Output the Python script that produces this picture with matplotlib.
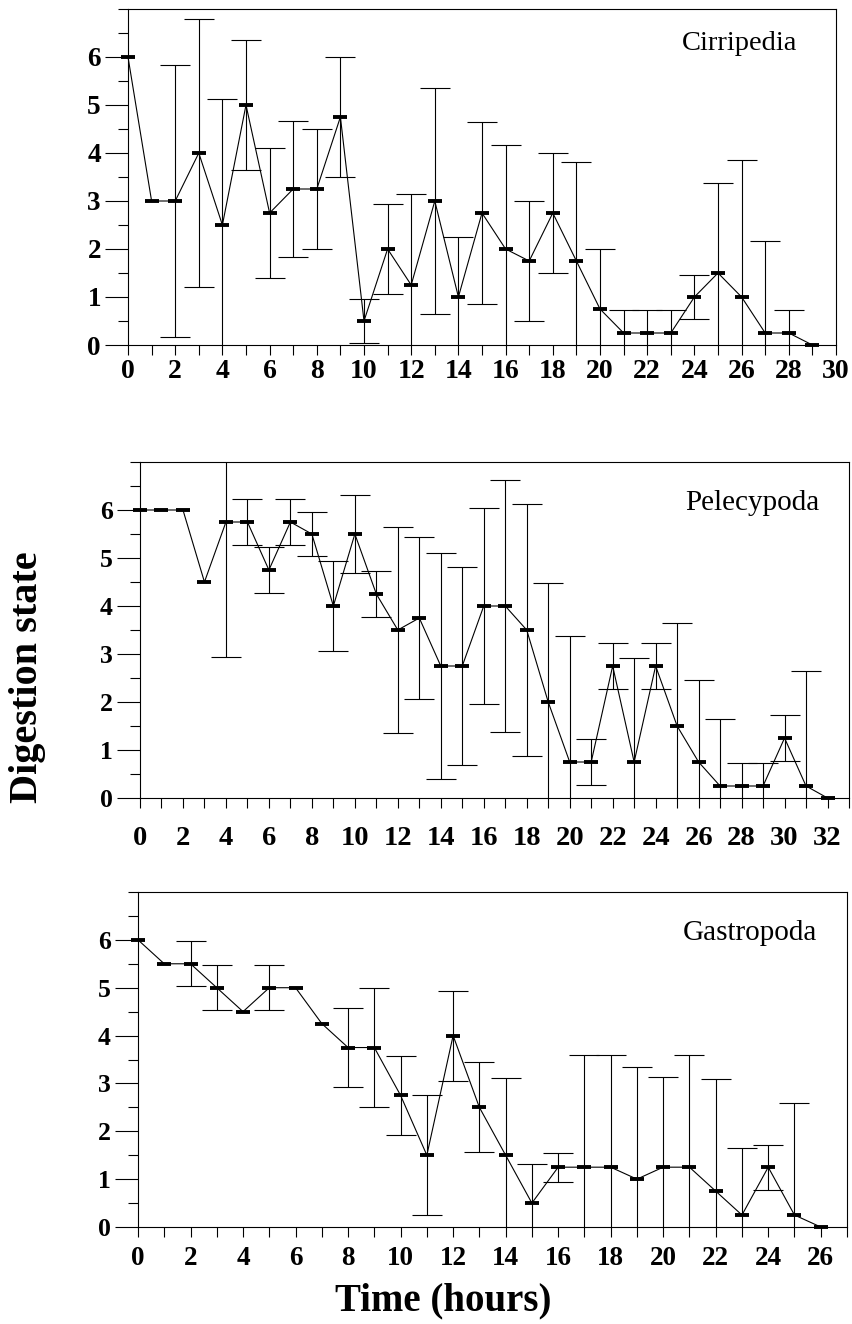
"""
Digestion state of prey groups over time (mean +/- SD), three stacked panels.
"""
import matplotlib.pyplot as plt
import numpy as np
from matplotlib.ticker import MultipleLocator

plt.rcParams['font.family'] = ['Liberation Serif', 'DejaVu Serif']

# Cirripedia
cirri_hours = list(range(30))
cirri_mean = [6, 3, 3, 4, 2.5, 5, 2.75, 3.25, 3.25, 4.75, 0.5, 2, 1.25, 3, 1,
              2.75, 2, 1.75, 2.75, 1.75, 0.75, 0.25, 0.25, 0.25, 1, 1.5, 1, 0.25, 0.25, 0]
cirri_sd = [0, 0, 2.83, 2.8, 2.63, 1.36, 1.36, 1.42, 1.26, 1.25, 0.46, 0.94, 1.89, 2.36, 1.25,
            1.9, 2.17, 1.25, 1.26, 2.06, 1.25, 0.47, 0.47, 0.47, 0.46, 1.88, 2.85, 1.92, 0.47, 0]

# Pelecypoda
pele_hours = list(range(33))
pele_mean = [6, 6, 6, 4.5, 5.75, 5.75, 4.75, 5.75, 5.5, 4, 5.5, 4.25, 3.5, 3.75, 2.75, 2.75,
             4, 4, 3.5, 2, 0.75, 0.75, 2.75, 0.75, 2.75, 1.5, 0.75, 0.25, 0.25, 0.25, 1.25, 0.25, 0]
pele_sd = [0, 0, 0, 0, 2.82, 0.47, 0.47, 0.47, 0.46, 0.94, 0.82, 0.47, 2.15, 1.69, 2.36, 2.06,
           2.04, 2.62, 2.62, 2.47, 2.62, 0.47, 0.47, 2.17, 0.47, 2.15, 1.7, 1.4, 0.47, 0.47, 0.47, 2.4, 0]

# Gastropoda
gast_hours = list(range(27))
gast_mean = [6, 5.5, 5.5, 5, 4.5, 5, 5, 4.25, 3.75, 3.75, 2.75, 1.5, 4, 2.5, 1.5, 0.5,
             1.25, 1.25, 1.25, 1, 1.25, 1.25, 0.75, 0.25, 1.25, 0.25, 0]
gast_sd = [0, 0, 0.47, 0.47, 0, 0.47, 0, 0, 0.82, 1.25, 0.82, 1.25, 0.94, 0.94, 1.62, 0.81,
           0.3, 2.35, 2.35, 2.35, 1.88, 2.35, 2.35, 1.4, 0.47, 2.35, 0]

W, H = 853, 1324
fig = plt.figure(figsize=(W / 100, H / 100), dpi=100)


def px_axes(left, top, right, bottom):
    # axes box given in pixel coordinates of the figure
    return fig.add_axes([left / W, 1 - bottom / H, (right - left) / W, (bottom - top) / H])


def draw_panel(ax, hours, mean, sd, name, xmax, xfont, yfont, xpad, name_x, name_y, name_size):
    hours = np.array(hours)
    mean = np.array(mean, dtype=float)
    sd = np.array(sd, dtype=float)
    has_err = sd > 0

    ax.errorbar(hours[has_err], mean[has_err], yerr=sd[has_err], fmt='none',
                ecolor='black', elinewidth=0.8, capsize=11, capthick=0.8)
    ax.plot(hours, mean, color='black', lw=0.8, marker='_', ms=10, mew=2.8, clip_on=False, zorder=3)

    ax.set_xlim(0, xmax)
    ax.set_ylim(0, 7)
    ax.xaxis.set_major_locator(MultipleLocator(2))
    ax.xaxis.set_minor_locator(MultipleLocator(1))
    ax.set_yticks(range(7))
    ax.yaxis.set_minor_locator(MultipleLocator(0.5))

    ax.tick_params(axis='x', which='both', direction='out', length=7, width=0.8,
                   top=False, pad=xpad)
    ax.tick_params(axis='y', which='major', direction='out', length=16.5, width=0.8,
                   right=False, pad=3)
    ax.tick_params(axis='y', which='minor', direction='out', length=7, width=0.8, right=False)
    for lab in ax.get_xticklabels():
        lab.set_fontsize(xfont)
        lab.set_fontweight('bold')
    for lab in ax.get_yticklabels():
        lab.set_fontsize(yfont)
        lab.set_fontweight('bold')
    for sp in ax.spines.values():
        sp.set_linewidth(0.8)

    ax.text(name_x, name_y, name, transform=ax.transAxes, ha='right', va='baseline',
            fontsize=name_size)


ax1 = px_axes(128, 9, 836, 345)
draw_panel(ax1, cirri_hours, cirri_mean, cirri_sd, 'Cirripedia', 30,
           20, 19.5, 3, 0.945, 0.878, 20.5)

ax2 = px_axes(140, 462, 849, 798)
draw_panel(ax2, pele_hours, pele_mean, pele_sd, 'Pelecypoda', 33,
           20.5, 18.5, 13, 0.959, 0.857, 21)

ax3 = px_axes(138, 892, 847, 1227)
draw_panel(ax3, gast_hours, gast_mean, gast_sd, 'Gastropoda', 27,
           19.5, 18.5, 7, 0.958, 0.857, 21)

fig.text(28 / W, 1 - 677 / H, 'Digestion state', rotation=90, ha='center', va='center',
         fontsize=29, fontweight='bold')
fig.text(443 / W, 1 - 1310 / H, 'Time (hours)', ha='center', va='baseline',
         fontsize=28, fontweight='bold')

fig.savefig('out.png', dpi=100)
